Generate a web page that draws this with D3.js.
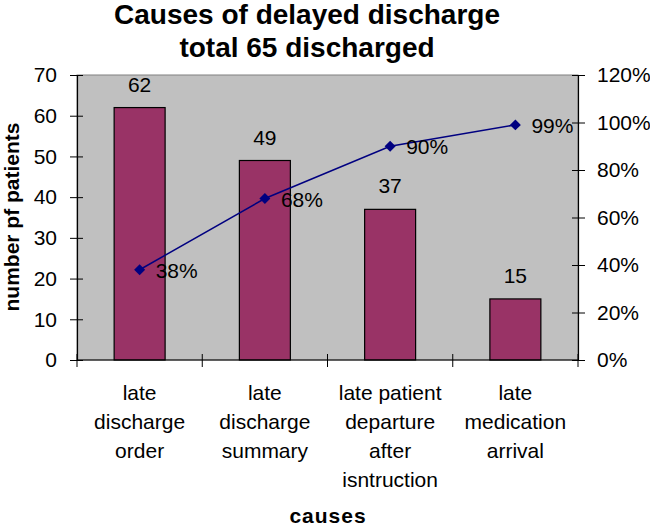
<!DOCTYPE html>
<html>
<head>
<meta charset="utf-8">
<script src="https://cdn.jsdelivr.net/npm/d3@7"></script>
<style>
  html, body { margin: 0; padding: 0; background: #fff; }
  text { font-family: "Liberation Sans", Arial, sans-serif; fill: #000; }
</style>
</head>
<body>
<svg id="chart" width="650" height="528"></svg>
<script>
const categories = [
  ["late", "discharge", "order"],
  ["late", "discharge", "summary"],
  ["late patient", "departure", "after", "isntruction"],
  ["late", "medication", "arrival"]
];
const counts = [62, 49, 37, 15];
const cumulative = [0.38, 0.68, 0.90, 0.99];
const cumulativeLabels = ["38%", "68%", "90%", "99%"];
const leftTicks = [0, 10, 20, 30, 40, 50, 60, 70];
const rightTicks = [0, 0.2, 0.4, 0.6, 0.8, 1.0, 1.2];
const titleLines = ["Causes of delayed discharge", "total 65 discharged"];
const yTitle = "number pf patients";
const xTitle = "causes";

const svg = d3.select("#chart");
const m = { left: 77, right: 578, top: 75, bottom: 360 };
const idx = d3.range(categories.length);

const x = d3.scaleBand().domain(idx).range([m.left, m.right]).paddingInner(0.593).paddingOuter(0.2965);
const xEdges = d3.scaleLinear().domain([0, categories.length]).range([m.left, m.right]);
const yL = d3.scaleLinear().domain([0, 70]).range([m.bottom, m.top]);
const yR = d3.scaleLinear().domain([0, 1.2]).range([m.bottom, m.top]);

// plot area
svg.append("rect")
  .attr("x", m.left).attr("y", m.top)
  .attr("width", m.right - m.left).attr("height", m.bottom - m.top)
  .attr("fill", "#c0c0c0").attr("stroke", "#808080").attr("stroke-width", 1);

// bars
svg.selectAll(".bar").data(counts).join("rect")
  .attr("class", "bar")
  .attr("x", (d, i) => x(i))
  .attr("y", d => yL(d))
  .attr("width", x.bandwidth())
  .attr("height", d => yL(0) - yL(d))
  .attr("fill", "#993366").attr("stroke", "#000").attr("stroke-width", 1.2);

// bar labels
svg.selectAll(".blab").data(counts).join("text")
  .attr("x", (d, i) => x(i) + x.bandwidth() / 2)
  .attr("y", d => yL(d) - 16)
  .attr("text-anchor", "middle")
  .attr("font-size", 21)
  .text(d => d);

// left axis
const axL = d3.axisLeft(yL).tickValues(leftTicks).tickSizeInner(7).tickSizeOuter(0).tickPadding(13);
const gL = svg.append("g").attr("transform", `translate(${m.left},0)`).call(axL);
gL.selectAll(".tick line").attr("x2", -7).attr("x1", 6).attr("stroke", "#000");
gL.select(".domain").attr("stroke", "#000").attr("stroke-width", 1.2);
gL.selectAll("text").attr("font-size", 21).attr("font-family", "Liberation Sans, Arial, sans-serif").attr("fill", "#000");

// right axis
const axR = d3.axisRight(yR).tickValues(rightTicks).tickSizeInner(7).tickSizeOuter(0)
  .tickPadding(12).tickFormat(d3.format(".0%"));
const gR = svg.append("g").attr("transform", `translate(${m.right},0)`).call(axR);
gR.selectAll(".tick line").attr("x1", -6).attr("x2", 7).attr("stroke", "#000");
gR.select(".domain").attr("stroke", "#000").attr("stroke-width", 1.2);
gR.selectAll("text").attr("font-size", 21).attr("font-family", "Liberation Sans, Arial, sans-serif").attr("fill", "#000");

// bottom axis
svg.append("line").attr("x1", m.left).attr("x2", m.right).attr("y1", m.bottom).attr("y2", m.bottom)
  .attr("stroke", "#000").attr("stroke-width", 1.2);
svg.selectAll(".xt").data(d3.range(categories.length + 1)).join("line")
  .attr("x1", d => xEdges(d)).attr("x2", d => xEdges(d))
  .attr("y1", m.bottom - 6).attr("y2", m.bottom + 7)
  .attr("stroke", "#000");

// category labels
const catG = svg.selectAll(".cat").data(categories).join("text")
  .attr("text-anchor", "middle").attr("font-size", 21);
catG.selectAll("tspan").data(d => d).join("tspan")
  .attr("x", function () { const i = categories.indexOf(d3.select(this.parentNode).datum()); return x(i) + x.bandwidth() / 2; })
  .attr("y", (d, j) => 400 + j * 29)
  .text(d => d);

// cumulative line
const line = d3.line().x((d, i) => x(i) + x.bandwidth() / 2).y(d => yR(d));
svg.append("path").datum(cumulative).attr("d", line)
  .attr("fill", "none").attr("stroke", "#000080").attr("stroke-width", 1.5);
svg.selectAll(".mk").data(cumulative).join("path")
  .attr("d", d3.symbol(d3.symbolSquare, 60))
  .attr("transform", (d, i) => `translate(${x(i) + x.bandwidth() / 2},${yR(d)}) rotate(45)`)
  .attr("fill", "#000080");
svg.selectAll(".plab").data(cumulative).join("text")
  .attr("x", (d, i) => x(i) + x.bandwidth() / 2 + 16)
  .attr("y", d => yR(d) + 8)
  .attr("font-size", 21)
  .text((d, i) => cumulativeLabels[i]);

// titles
svg.selectAll(".title").data(titleLines).join("text")
  .attr("x", 307).attr("y", (d, i) => 24 + i * 33)
  .attr("text-anchor", "middle").attr("font-size", 28).attr("font-weight", "bold")
  .text(d => d);
svg.append("text")
  .attr("transform", "translate(19,217) rotate(-90)")
  .attr("text-anchor", "middle").attr("font-size", 21).attr("font-weight", "bold")
  .text(yTitle);
svg.append("text")
  .attr("x", 328).attr("y", 523)
  .attr("text-anchor", "middle").attr("font-size", 21).attr("font-weight", "bold")
  .attr("letter-spacing", 1)
  .text(xTitle);
</script>
</body>
</html>
